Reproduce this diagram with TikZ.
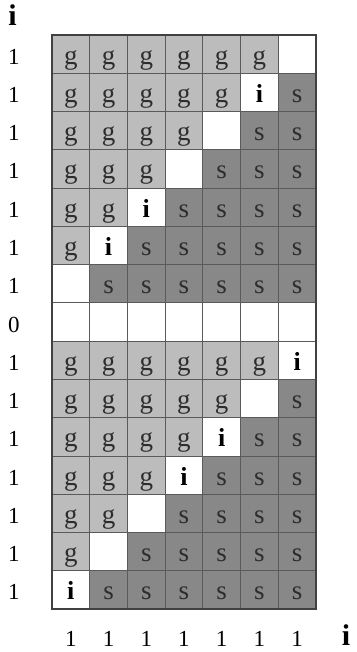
\documentclass[tikz,border=0pt]{standalone}
\usepackage{fontspec}
\setmainfont{Liberation Serif}
\definecolor{gcol}{RGB}{188,188,188}
\definecolor{scol}{RGB}{136,136,136}
\definecolor{gridcol}{RGB}{90,90,90}
\definecolor{bordercol}{RGB}{65,65,65}
\definecolor{lettercol}{RGB}{45,45,45}
\begin{document}
\begin{tikzpicture}[x=1pt,y=-1pt,
  gridcell/.style={draw=gridcol, line width=0.8pt, minimum width=37.71pt, minimum height=38.27pt,
    inner sep=0pt, outer sep=0pt, text height=20pt, text depth=0pt,
    font=\fontsize{27}{27}\selectfont, text=lettercol},
  myboxg/.style={gridcell, fill=gcol},
  myboxs/.style={gridcell, fill=scol},
  myboxw/.style={gridcell, fill=white},
  myboxi/.style={gridcell, fill=white, text=black, font=\fontsize{26}{26}\selectfont\bfseries},
  lab/.style={anchor=base, inner sep=0pt, font=\fontsize{23}{23}\selectfont},
  bigi/.style={anchor=base, inner sep=0pt, font=\fontsize{30}{30}\selectfont\bfseries}]
\useasboundingbox (0,0) rectangle (356,652);
\foreach \rowlist [count=\ri] in {
  {g,g,g,g,g,g,w},
  {g,g,g,g,g,i,s},
  {g,g,g,g,w,s,s},
  {g,g,g,w,s,s,s},
  {g,g,i,s,s,s,s},
  {g,i,s,s,s,s,s},
  {w,s,s,s,s,s,s},
  {w,w,w,w,w,w,w},
  {g,g,g,g,g,g,i},
  {g,g,g,g,g,w,s},
  {g,g,g,g,i,s,s},
  {g,g,g,i,s,s,s},
  {g,g,w,s,s,s,s},
  {g,w,s,s,s,s,s},
  {i,s,s,s,s,s,s}} {
  \foreach \ty [count=\ci] in \rowlist {
    \tikzset{cur/.style/.expanded={mybox\ty}}
    \if w\ty \def\txt{}\else\let\txt\ty\fi
    \node[cur] (c-\ri-\ci) at ({52+(\ci-0.5)*37.71},{35+(\ri-0.5)*38.27}) {\txt};
  }
}
\draw[bordercol, line width=2pt] (c-1-1.north west) rectangle (c-15-7.south east);
% row labels
\foreach \v [count=\ri] in {1,1,1,1,1,1,1,0,1,1,1,1,1,1,1} {
  \node[lab] (r-\ri) at ({14},{35+(\ri-0.5)*38.27+10}) {\v};
}
% column labels
\foreach \ci in {1,...,7} {
  \node[lab] (k-\ci) at ({52+(\ci-0.5)*37.71},{646}) {1};
}
\node[bigi] (itop) at (12.5,26) {i};
\node[bigi] (iright) at (346,645) {i};
\end{tikzpicture}
\end{document}
